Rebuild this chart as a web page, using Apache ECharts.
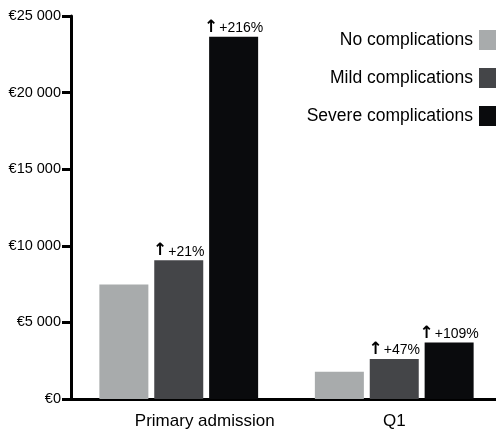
<!DOCTYPE html>
<html><head><meta charset="utf-8">
<script src="https://cdn.jsdelivr.net/npm/echarts@6/dist/echarts.min.js"></script>
<style>html,body{margin:0;padding:0;background:#fff}#c{width:496px;height:431px}</style>
</head><body><div id="c"></div>
<script>
const categories = ['Primary admission', 'Q1'];
const seriesNames = ['No complications', 'Mild complications', 'Severe complications'];
const noComp = [7480, 1780];
const mildComp = [9050, 2610];
const severeComp = [23650, 3680];
const mildLabels = ['+21%', '+47%'];
const severeLabels = ['+216%', '+109%'];
const yTicks = [0, 5000, 10000, 15000, 20000, 25000];
const colors = ['#a8abac', '#444548', '#0a0b0d'];

const FONT = 'Liberation Sans, Arial, sans-serif';
function fmtEuro(v) {
  return '€' + String(v).replace(/\B(?=(\d{3})+(?!\d))/g, ' ');
}
function pctLabel(labels) {
  return {
    show: true, position: 'top', distance: 1,
    formatter: p => '{a|↑}{b|' + labels[p.dataIndex] + '}',
    rich: {
      a: { fontFamily: 'DejaVu Sans', fontWeight: 'bold', fontSize: 17, color: '#000', padding: [0, 1, 0, 0] },
      b: { fontFamily: FONT, fontSize: 14, color: '#000', padding: [2, 0, 0, 0] }
    }
  };
}
const chart = echarts.init(document.getElementById('c'));
chart.setOption({
  animation: false,
  color: colors,
  grid: { left: 71, right: -6, top: 16, bottom: 32, containLabel: false, outerBoundsMode: 'none' },
  legend: {
    orient: 'vertical', right: -8, top: 25, align: 'right',
    itemWidth: 20, itemHeight: 20, itemGap: 18,
    icon: 'rect',
    textStyle: { fontFamily: FONT, fontSize: 17.5, color: '#000', padding: [0, 1, 0, 0] },
    data: seriesNames
  },
  xAxis: {
    type: 'category', data: categories,
    axisLine: { lineStyle: { color: '#000', width: 3 } },
    axisTick: { show: false },
    axisLabel: {
      margin: 14, fontFamily: FONT, fontSize: 17, color: '#000', showMaxLabel: true, hideOverlap: false,
      formatter: v => v === categories[0] ? '{p|' + v + '}' : '{q|' + v + '}',
      rich: {
        p: { fontFamily: FONT, fontSize: 17, color: '#000', padding: [0, 0, 0, 52] },
        q: { fontFamily: FONT, fontSize: 17, color: '#000' }
      }
    }
  },
  yAxis: {
    type: 'value', min: 0, max: 25000, interval: 5000,
    axisLine: { show: true, lineStyle: { color: '#000', width: 3 } },
    axisTick: { show: true, length: 9, lineStyle: { color: '#000', width: 3 } },
    axisLabel: { margin: 10, fontFamily: FONT, fontSize: 14.5, color: '#000', formatter: v => fmtEuro(v) },
    splitLine: { show: false }
  },
  series: [
    { name: seriesNames[0], type: 'bar', data: noComp, barWidth: 49, barGap: '12%' },
    { name: seriesNames[1], type: 'bar', data: mildComp, barWidth: 49, barGap: '12%', label: pctLabel(mildLabels) },
    { name: seriesNames[2], type: 'bar', data: severeComp, barWidth: 49, barGap: '12%', label: pctLabel(severeLabels) }
  ]
});
</script></body></html>
